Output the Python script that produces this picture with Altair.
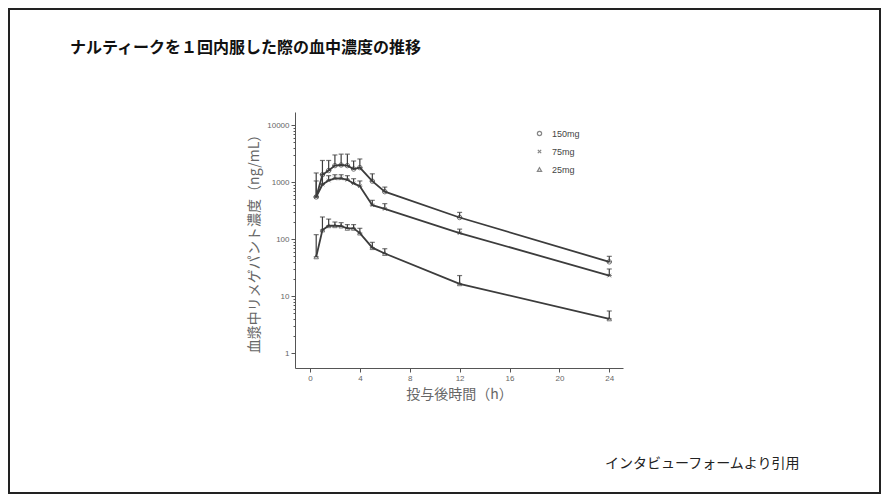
import altair as alt
import pandas as pd

# time after dose (h)
times = [0.5, 1, 1.5, 2, 2.5, 3, 3.5, 4, 5, 6, 12, 24]

# mean concentration and upper end of error bar (ng/mL)
mean_150 = [550, 1350, 1600, 1950, 2000, 1950, 1700, 1800, 1040, 680, 240, 40]
upper_150 = [1450, 2400, 2400, 3000, 3100, 3100, 2350, 2550, 1400, 820, 295, 50]
mean_75 = [550, 910, 1070, 1160, 1160, 1100, 950, 850, 395, 340, 128, 23]
upper_75 = [1050, 1380, 1300, 1350, 1350, 1300, 1150, 1050, 480, 420, 150, 30]
mean_25 = [49, 145, 172, 172, 170, 155, 155, 128, 71, 56, 16.5, 4]
upper_25 = [120, 245, 225, 200, 195, 180, 180, 155, 88, 68, 23, 5.5]

doses = ['150mg', '75mg', '25mg']
x_ticks = [0, 4, 8, 12, 16, 20, 24]
y_major = [1, 10, 100, 1000, 10000]

title_text = 'ナルティークを１回内服した際の血中濃度の推移'
source_text = 'インタビューフォームより引用'

rows = []
for dose, means, uppers in zip(doses, [mean_150, mean_75, mean_25], [upper_150, upper_75, upper_25]):
    for t, m, u in zip(times, means, uppers):
        rows.append({'time': t, 'dose': dose, 'mean': m, 'upper': u})
df = pd.DataFrame(rows)

y_ticks = [m * d for d in y_major[:-1] for m in range(1, 10)] + [10000]

ink = '#3c3c3c'
jp_font = 'Noto Sans CJK JP'
x_mark = 'M-0.8,-0.8L0.8,0.8M-0.8,0.8L0.8,-0.8'

x_enc = alt.X('time:Q', title='投与後時間（h）',
              scale=alt.Scale(domain=[-1.2, 25.1], nice=False, zero=False),
              axis=alt.Axis(values=x_ticks, grid=False, tickSize=4, labelFontSize=8, labelColor='#666',
                            tickColor='#555', domainColor='#555', titleFont=jp_font, titleFontSize=14,
                            titleFontWeight='normal', titleColor='#666', titlePadding=5, labelPadding=2))
y_enc = alt.Y('mean:Q', title='血漿中リメゲパント濃度（ng/mL）',
              scale=alt.Scale(type='log', domain=[0.55, 17000], nice=False),
              axis=alt.Axis(values=y_ticks, grid=False, labelFontSize=8, labelColor='#666',
                            labelExpr="indexof([1,10,100,1000,10000], datum.value) >= 0 ? format(datum.value, 'd') : ''",
                            tickSize={'condition': {'test': 'indexof([1,10,100,1000,10000], datum.value) >= 0', 'value': 4}, 'value': 2},
                            tickColor='#555', domainColor='#555', titleFont=jp_font, titleFontSize=14,
                            titleFontWeight='normal', titleColor='#666', titlePadding=5, labelPadding=2))

base = alt.Chart(df)

lines = base.mark_line(color=ink, strokeWidth=1.8).encode(x=x_enc, y=y_enc, detail='dose:N')

bars = base.mark_rule(color=ink, strokeWidth=1.2).encode(x='time:Q', y='mean:Q', y2='upper:Q')

caps_top = base.mark_tick(color=ink, orient='horizontal', size=5, thickness=1.2).encode(x='time:Q', y='upper:Q')
caps_low = base.mark_tick(color=ink, orient='horizontal', size=5, thickness=1.2).encode(x='time:Q', y='mean:Q')

points = base.mark_point(filled=False, size=20, color=ink, strokeWidth=1).encode(
    x='time:Q', y='mean:Q',
    shape=alt.Shape('dose:N', sort=doses,
                    scale=alt.Scale(domain=doses, range=['circle', x_mark, 'triangle-up']),
                    legend=alt.Legend(title=None, orient='none', legendX=240, legendY=17,
                                      labelFontSize=9, labelColor='#444', symbolSize=18,
                                      symbolStrokeColor='#555', symbolStrokeWidth=1.2, symbolFillColor='white',
                                      rowPadding=8, labelOffset=8)))

title = alt.Chart(pd.DataFrame({'t': [title_text]})).mark_text(
    align='left', baseline='middle', font=jp_font, fontSize=16, fontWeight='bold', color='#111'
).encode(x=alt.value(-225), y=alt.value(-64), text='t:N')

source = alt.Chart(pd.DataFrame({'t': [source_text]})).mark_text(
    align='left', baseline='middle', font=jp_font, fontSize=14, color='#222'
).encode(x=alt.value(310), y=alt.value(352), text='t:N')

border = alt.Chart(pd.DataFrame({'b': [0]})).mark_rect(
    fill='transparent', stroke='#222', strokeWidth=2
).encode(x=alt.value(-286), x2=alt.value(585), y=alt.value(-103), y2=alt.value(381))

chart = alt.layer(border, lines, bars, caps_top, caps_low, points, title, source).properties(
    width=328, height=256,
    autosize=alt.AutoSizeParams(type='none'),
    padding={'left': 287, 'top': 104, 'right': 259, 'bottom': 126},
    background='white'
).configure_view(strokeWidth=0, stroke='transparent')

chart.save("out.html", embed_options={"renderer": "svg", "actions": False})
